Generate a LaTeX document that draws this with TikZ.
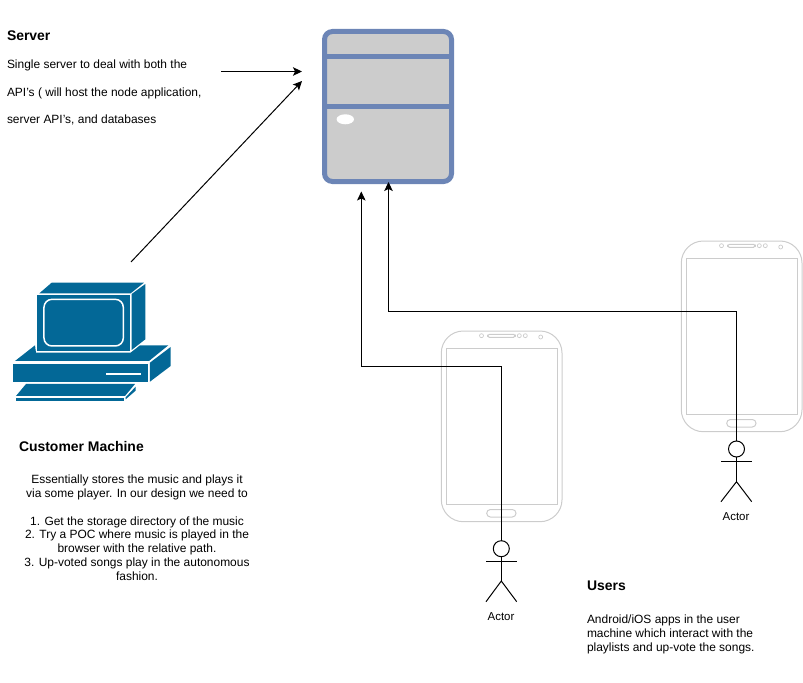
\documentclass[tikz,border=0pt]{standalone}
\usepackage{fontspec}
\setmainfont{Liberation Sans}
\usetikzlibrary{arrows.meta,shapes.geometric}
\definecolor{srvblue}{HTML}{6C85B6}
\definecolor{srvfill}{HTML}{CCCCCC}
\definecolor{pcblue}{HTML}{036897}
\definecolor{phonegray}{HTML}{CCCCCC}
\tikzset{
  x=1bp,y=-1bp,
  conn/.style={draw=black,line width=1bp,-{Stealth[length=9bp,width=8.5bp,inset=2bp]}},
  serverbox/.style={draw=srvblue,fill=srvfill,line width=5bp,rounded corners=8bp,minimum width=127bp,minimum height=150bp,inner sep=0pt,outer sep=0pt},
  srvbar/.style={draw=srvblue,line width=5bp},
  pcface/.style={fill=pcblue,draw=none},
  pcline/.style={draw=white,line width=1.5bp},
  phoneline/.style={draw=phonegray,line width=1bp},
  stick/.style={draw=black,line width=1bp},
  headnode/.style={circle,draw=black,line width=1bp,minimum size=16bp,inner sep=0pt,outer sep=0pt},
  bodytext/.style={inner sep=0pt,outer sep=0pt,font=\fontsize{12}{14}\selectfont},
  actortext/.style={inner sep=0pt,font=\fontsize{11.5}{14}\selectfont},
  titletext/.style={inner sep=0pt,outer sep=0pt,anchor=base west,font=\fontsize{14}{16}\selectfont\bfseries},
}
\newcommand{\drawphone}[2]{%
  \begin{scope}[shift={(#1,#2)}]
    \draw[phoneline,rounded corners=22bp] (11.3,11) rectangle (132,201.7);
    \draw[phoneline] (16.3,28.4) rectangle (127.7,184.4);
    \draw[phoneline,rounded corners=3.7bp] (56.7,189.5) rectangle (86,197);
    \draw[phoneline,rounded corners=1.7bp] (57.5,14.3) rectangle (85.3,17.3);
    \draw[phoneline,line width=.7bp] (51.5,15.7) circle (2bp);
    \draw[phoneline,line width=.7bp] (89.3,15.7) circle (2bp);
    \draw[phoneline,line width=.7bp] (95.3,15.7) circle (2bp);
    \draw[phoneline,line width=.7bp] (110.7,17) circle (2bp);
  \end{scope}}
\begin{document}
\begin{tikzpicture}
\useasboundingbox (0,0) rectangle (803,683);
% server
\node[serverbox] (server) at (388,106.5) {};
\draw[srvbar] (server.west |- 0,56.3) -- (server.east |- 0,56.3);
\draw[srvbar] (server.west |- 0,106.3) -- (server.east |- 0,106.3);
\node[ellipse,fill=white,minimum width=17.4bp,minimum height=10bp,inner sep=0pt] (srvled) at (345.3,119.3) {};
% computer
\begin{scope}[shift={(0,270)},x=0.3333bp,y=-0.3333bp]
  \fill[pcface] (118,70)--(155,38)--(432,38)--(392,70)--cycle;
  \fill[pcface] (112,75)--(390,75)--(390,243)--(112,243)--cycle;
  \fill[pcface] (395,72)--(436,42)--(436,208)--(395,240)--cycle;
  \draw[pcline,rounded corners=8bp] (132,88) rectangle (370,228);
  \fill[pcface] (45,273)--(105,226)--(108,248)--(392,248)--(420,226)--(505,226)--(447,273)--cycle;
  \fill[pcface] (38,281)--(445,281)--(445,336)--(38,336)--cycle;
  \fill[pcface] (450,278)--(512,231)--(512,288)--(450,335)--cycle;
  \draw[pcline] (319,312)--(422,312);
  \fill[pcface] (48,378)--(78,342)--(405,342)--(375,378)--cycle;
  \fill[pcface] (47,383)--(373,383)--(373,392)--(47,392)--cycle;
  \fill[pcface] (377,382)--(407,350)--(407,362)--(377,388)--cycle;
\end{scope}
% phones
\drawphone{430}{320}
\drawphone{670}{230}
% actors
\node[headnode] (head1) at (501.3,548.7) {};
\coordinate (neck1) at (501.3,581);
\draw[stick] (head1.south) -- (neck1);
\draw[stick] (486,561) -- (516.7,561);
\draw[stick] (486,601.7) -- (neck1) -- (516.7,601.7);
\node[actortext] (actor1) at (501,617) {Actor};
\node[headnode] (head2) at (736.5,449) {};
\coordinate (neck2) at (736.5,481.7);
\draw[stick] (head2.south) -- (neck2);
\draw[stick] (721,461) -- (751.7,461);
\draw[stick] (721,501.7) -- (neck2) -- (751.7,501.7);
\node[actortext] (actor2) at (736,517) {Actor};
% connector ends
\coordinate (txtout) at (221,71.5);
\coordinate (srvinA) at (302,71.5);
\coordinate (pcout) at (131,262);
\coordinate (srvinB) at (302,81);
\coordinate (srvinC) at (361.3,191.5);
\coordinate (srvinD) at (388.5,182);
\draw[conn] (txtout) -- (srvinA);
\draw[conn] (pcout) -- (srvinB);
\draw[conn] (head1.north) -- (501.3,366.7) -- (361.3,366.7) -- (srvinC);
\draw[conn] (head2.north) -- (736.5,311) -- (388.5,311) -- (srvinD);
% text
\node[titletext] (t1) at (7,40.5) {Server};
\node[bodytext,anchor=base west] (s1) at (7,68.5) {Single server to deal with both the};
\node[bodytext,anchor=base west] (s2) at (7,96.5) {API's ( will host the node application,};
\node[bodytext,anchor=base west] (s3) at (7,123.5) {server API's, and databases};
\node[titletext] (t2) at (19,451) {Customer Machine};
\node[bodytext,anchor=north,align=center] (c1) at (137,474.5) {Essentially stores the music and plays it\\via some player. In our design we need to\\[14pt]1. Get the storage directory of the music\\2. Try a POC where music is played in the\\browser with the relative path.\\3. Up-voted songs play in the autonomous\\fashion.};
\node[titletext] (t3) at (587,590) {Users};
\node[bodytext,anchor=north west,align=left] (u1) at (587,614.5) {Android/iOS apps in the user\\machine which interact with the\\playlists and up-vote the songs.};
\end{tikzpicture}
\end{document}
